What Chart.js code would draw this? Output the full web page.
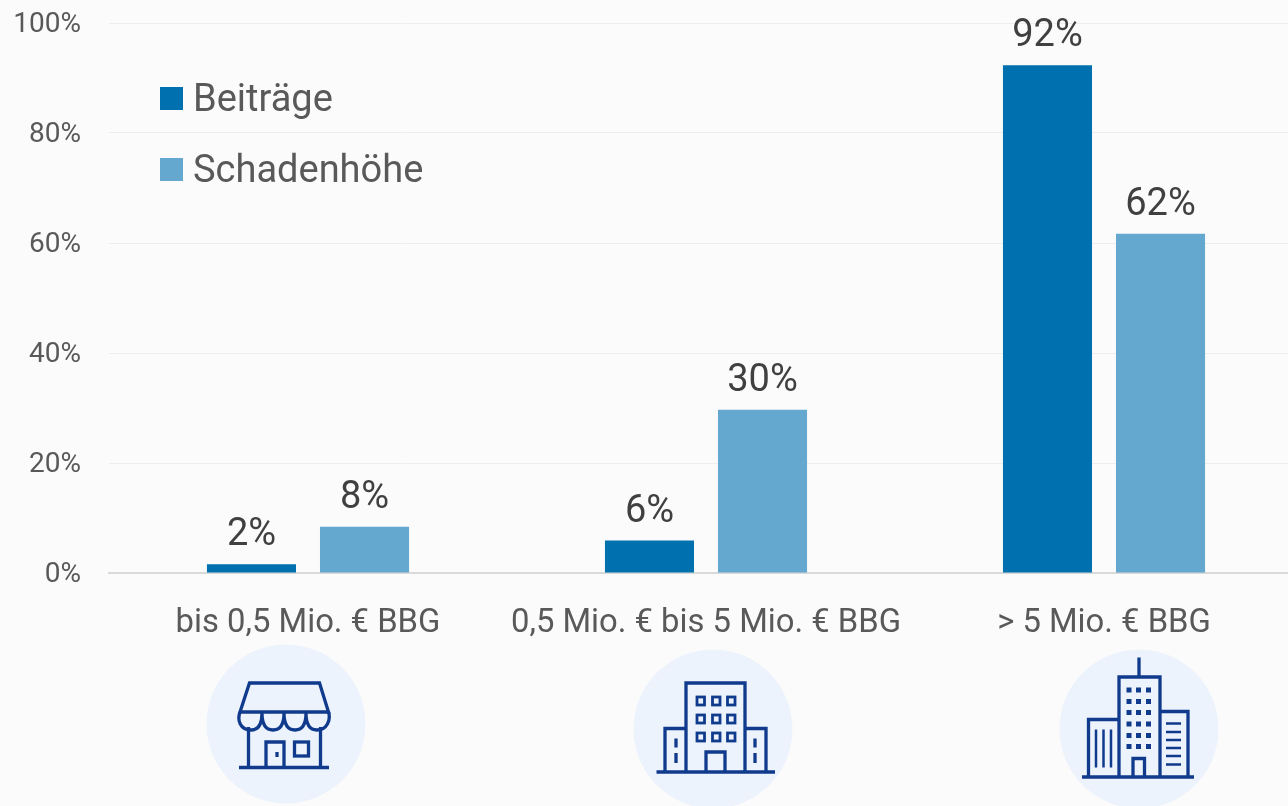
<!DOCTYPE html>
<html lang="de"><head><meta charset="utf-8">
<style>
html,body{margin:0;padding:0;background:#fbfbfb;overflow:hidden;width:1288px;height:806px}
#wrap{position:relative;width:1288px;height:806px;overflow:hidden}
canvas{position:absolute;left:0;top:0}
svg{position:absolute;left:0;top:0}
</style>
<script src="https://cdn.jsdelivr.net/npm/chart.js@4/dist/chart.umd.min.js"></script>
</head><body>
<div id="wrap">
<svg width="1288" height="806" viewBox="0 0 1288 806" fill="none" stroke="#103a8c" stroke-width="3.3" aria-hidden="true">
 <g stroke="none" fill="#edf3fc">
  <circle cx="286" cy="724" r="79.5"/><circle cx="713" cy="729" r="79.5"/><circle cx="1139" cy="729" r="79.5"/>
 </g>
 <g>
  <path d="M249.5 683H319.5L328.5 712H240Z"/>
  <path d="M240 712C237 720 240 730 251 730C258 730 262 724 262 713C262 724 266 730 273 730C280 730 284 724 284 713C284 724 288 730 295 730C302 730 306 724 306 713C306 724 310 730 317 730C327 730 331 720 328.5 712"/>
  <path d="M248.5 727V767M320.5 727V767M239 767.5H329"/>
  <path d="M266 767V742H284V767"/><rect x="294.5" y="742" width="14" height="14"/>
  <path d="M277 752V757"/>
 </g>
 <g>
  <path d="M686 772V683H745V772M686 728.5H665V772M745 728.5H766V772M656.5 772H775M706 772V752H725V772"/>
  <g stroke-width="2.8">
   <rect x="697" y="697" width="7.5" height="8"/><rect x="712.5" y="697" width="7.5" height="8"/><rect x="727.5" y="697" width="7.5" height="8"/>
   <rect x="697" y="715" width="7.5" height="8"/><rect x="712.5" y="715" width="7.5" height="8"/><rect x="727.5" y="715" width="7.5" height="8"/>
   <rect x="697" y="733" width="7.5" height="8"/><rect x="712.5" y="733" width="7.5" height="8"/><rect x="727.5" y="733" width="7.5" height="8"/>
  </g>
  <path d="M676 738.5V747.5M676 753V763M755 738.5V747.5M755 753V763"/>
 </g>
 <g>
  <path d="M1139 657.5V677M1119 777V677H1160V777M1119 719.5H1088.5V777M1160 711.5H1188V777M1082 777H1194M1133 777V758.5H1144.5V777"/>
  <path d="M1096 729.5V767.5M1103.5 729.5V767.5M1111 729.5V767.5M1166 723.5H1181M1166 732H1181M1166 740H1181M1166 748H1181M1166 756H1181M1166 764.5H1181" stroke-width="2.5"/>
  <g stroke="none" fill="#103a8c">
   <rect x="1126.5" y="687.5" width="5" height="5"/><rect x="1136" y="687.5" width="5" height="5"/><rect x="1146" y="687.5" width="5" height="5"/>
   <rect x="1126.5" y="699" width="5" height="5"/><rect x="1136" y="699" width="5" height="5"/><rect x="1146" y="699" width="5" height="5"/>
   <rect x="1126.5" y="710" width="5" height="5"/><rect x="1136" y="710" width="5" height="5"/><rect x="1146" y="710" width="5" height="5"/>
   <rect x="1126.5" y="721.5" width="5" height="5"/><rect x="1136" y="721.5" width="5" height="5"/><rect x="1146" y="721.5" width="5" height="5"/>
   <rect x="1126.5" y="733" width="5" height="5"/><rect x="1136" y="733" width="5" height="5"/><rect x="1146" y="733" width="5" height="5"/>
   <rect x="1126.5" y="744" width="5" height="5"/><rect x="1136" y="744" width="5" height="5"/><rect x="1146" y="744" width="5" height="5"/>
  </g>
 </g>
</svg>
<canvas id="c" width="1303" height="650"></canvas>
</div>
<script>
const categories = ['bis 0,5 Mio. € BBG', '0,5 Mio. € bis 5 Mio. € BBG', '> 5 Mio. € BBG'];
const beitraege = [1.6, 5.9, 92.3];
const schadenhoehe = [8.4, 29.7, 61.7];
const seriesNames = ['Beiträge', 'Schadenhöhe'];
const seriesColors = ['#0070ae', '#64a8cf'];
const yTicks = [0, 20, 40, 60, 80, 100];
const FONT = 'Roboto, sans-serif';

const valueLabels = {
  id: 'valueLabels',
  afterDatasetsDraw(chart) {
    const ctx = chart.ctx;
    ctx.save();
    ctx.font = '38px ' + FONT;
    ctx.fillStyle = '#404040';
    ctx.textAlign = 'center';
    ctx.textBaseline = 'alphabetic';
    chart.data.datasets.forEach((ds, i) => {
      chart.getDatasetMeta(i).data.forEach((bar, j) => {
        ctx.fillText(Math.round(ds.data[j]) + '%', bar.x, bar.y - 19);
      });
    });
    ctx.restore();
  }
};
const insideLegend = {
  id: 'insideLegend',
  afterDraw(chart) {
    const ctx = chart.ctx;
    const rows = [[87, 111], [158, 182]];
    ctx.save();
    ctx.font = '38px ' + FONT;
    ctx.textBaseline = 'alphabetic';
    ctx.textAlign = 'left';
    seriesNames.forEach((n, i) => {
      ctx.fillStyle = seriesColors[i];
      ctx.fillRect(160, rows[i][0], 23, 23);
      ctx.fillStyle = '#595959';
      ctx.fillText(n, 193, rows[i][1]);
    });
    ctx.restore();
  }
};
const nudgeYLabels = {
  id: 'nudgeYLabels',
  beforeDraw(chart) {
    chart.scales.y.getLabelItems(chart.chartArea).forEach(it => { it.textOffset = 2; });
  }
};

new Chart(document.getElementById('c'), {
  type: 'bar',
  data: {
    labels: categories,
    datasets: [
      { label: seriesNames[0], data: beitraege, backgroundColor: seriesColors[0], categoryPercentage: 0.568, barPercentage: 0.788 },
      { label: seriesNames[1], data: schadenhoehe, backgroundColor: seriesColors[1], categoryPercentage: 0.568, barPercentage: 0.788 }
    ]
  },
  options: {
    responsive: false,
    animation: false,
    layout: { padding: { top: 23, right: 0, bottom: 0, left: 0 } },
    plugins: { legend: { display: false }, tooltip: { enabled: false } },
    scales: {
      x: {
        grid: { display: false },
        border: { color: '#d9d9d9', width: 2 },
        ticks: { font: { family: FONT, size: 32.8 }, color: '#595959', padding: 23, maxRotation: 0, autoSkip: false },
        afterFit(s) { s.height = 77; }
      },
      y: {
        min: 0, max: 100,
        afterBuildTicks(s) { s.ticks = yTicks.map(v => ({ value: v })); },
        grid: { color: '#eeeeee', lineWidth: 1, drawTicks: false },
        border: { display: false },
        ticks: { font: { family: FONT, size: 28 }, color: '#595959', padding: 28, callback: v => v + '%' },
        afterFit(s) { s.width = 109; s.paddingTop = 0; s.paddingBottom = 0; }
      }
    }
  },
  plugins: [nudgeYLabels, valueLabels, insideLegend]
});
</script>
</body></html>
